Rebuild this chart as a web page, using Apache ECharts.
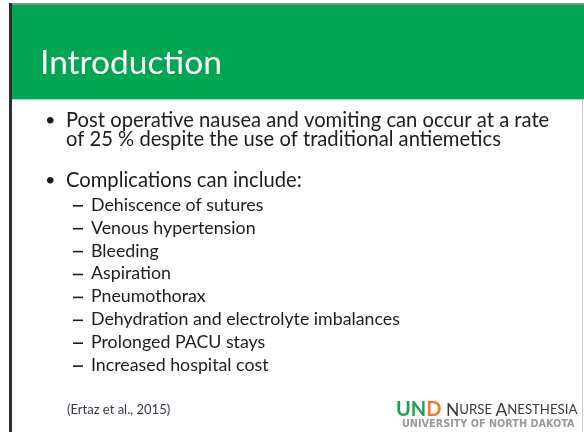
<!DOCTYPE html>
<html>
<head>
<meta charset="utf-8">
<script src="https://cdn.jsdelivr.net/npm/echarts@6/dist/echarts.min.js"></script>
<style>
  html, body { margin: 0; padding: 0; background: #fff; }
  #chart { width: 584px; height: 432px; }
</style>
</head>
<body>
<div id="chart"></div>
<script>
// slide content
const titleText = 'Introduction';
const bulletLines = [
  ['Post operative nausea and vomiting can occur at a rate', 'of 25 % despite the use of traditional antiemetics'],
  ['Complications can include:']
];
const subItems = [
  'Dehiscence of sutures',
  'Venous hypertension',
  'Bleeding',
  'Aspiration',
  'Pneumothorax',
  'Dehydration and electrolyte imbalances',
  'Prolonged PACU stays',
  'Increased hospital cost'
];
const citation = '(Ertaz et al., 2015)';
const logoBottom = 'UNIVERSITY OF NORTH DAKOTA';

const font = 'Lato, "Open Sans", sans-serif';
const bodyColor = '#1c1c1c';

const chart = echarts.init(document.getElementById('chart'), null, { renderer: 'canvas' });

const elements = [];

// frame + header band
elements.push(
  { type: 'rect', shape: { x: 9, y: 3, width: 575, height: 2 }, style: { fill: '#8a8a8a' } },
  { type: 'rect', shape: { x: 9, y: 3, width: 3, height: 429 }, style: { fill: '#2e2e2e' } },
  { type: 'rect', shape: { x: 12, y: 5, width: 572, height: 94 }, style: { fill: '#00a651' } },
  { type: 'rect', shape: { x: 12, y: 99, width: 572, height: 1 }, style: { fill: '#a8e0c4' } },
  { type: 'rect', shape: { x: 582, y: 100, width: 1, height: 332 }, style: { fill: '#d0d0d0' } }
);

elements.push({
  type: 'text', x: 40, y: 63,
  style: { text: titleText, fill: '#fff', font: '33.5px ' + font, textVerticalAlign: 'middle' }
});

// main bullets
const bulletY = [[120, 139], [180]];
bulletLines.forEach((lines, i) => {
  elements.push({
    type: 'text', x: 45, y: bulletY[i][0],
    style: { text: '•', fill: bodyColor, font: '18px ' + font, textVerticalAlign: 'middle' }
  });
  lines.forEach((line, j) => {
    elements.push({
      type: 'text', x: 66, y: bulletY[i][j],
      style: { text: line, fill: bodyColor, font: '20.2px ' + font, textVerticalAlign: 'middle' }
    });
  });
});

// sub items
subItems.forEach((item, k) => {
  const y = 205 + k * 22.9;
  elements.push({
    type: 'rect', shape: { x: 73, y: y, width: 10, height: 1.6 },
    style: { fill: bodyColor }
  });
  elements.push({
    type: 'text', x: 91, y: y,
    style: { text: item, fill: bodyColor, font: '17.8px ' + font, textVerticalAlign: 'middle' }
  });
});

elements.push({
  type: 'text', x: 67, y: 410,
  style: { text: citation, fill: '#333a4a', font: '13px ' + font, textVerticalAlign: 'middle' }
});

// logo
elements.push({
  type: 'text', x: 396, y: 410,
  style: {
    text: '{u|UN}{d|D}{n| N}{s|URSE} {n|A}{s|NESTHESIA}',
    textVerticalAlign: 'middle',
    rich: {
      u: { fill: '#1fa055', font: 'bold 20px ' + font },
      d: { fill: '#f07a2a', font: 'bold 20px ' + font, textStroke: '#1fa055', lineWidth: 1.5 },
      n: { fill: '#3a3a3a', font: '17.5px ' + font },
      s: { fill: '#3a3a3a', font: '13.2px ' + font }
    }
  }
});
elements.push({
  type: 'text', x: 402, y: 424,
  style: { text: logoBottom, fill: '#999', font: 'bold 9.7px "DejaVu Sans", sans-serif', textVerticalAlign: 'middle' }
});

chart.setOption({
  backgroundColor: '#fff',
  animation: false,
  graphic: { elements: elements }
});
</script>
</body>
</html>
